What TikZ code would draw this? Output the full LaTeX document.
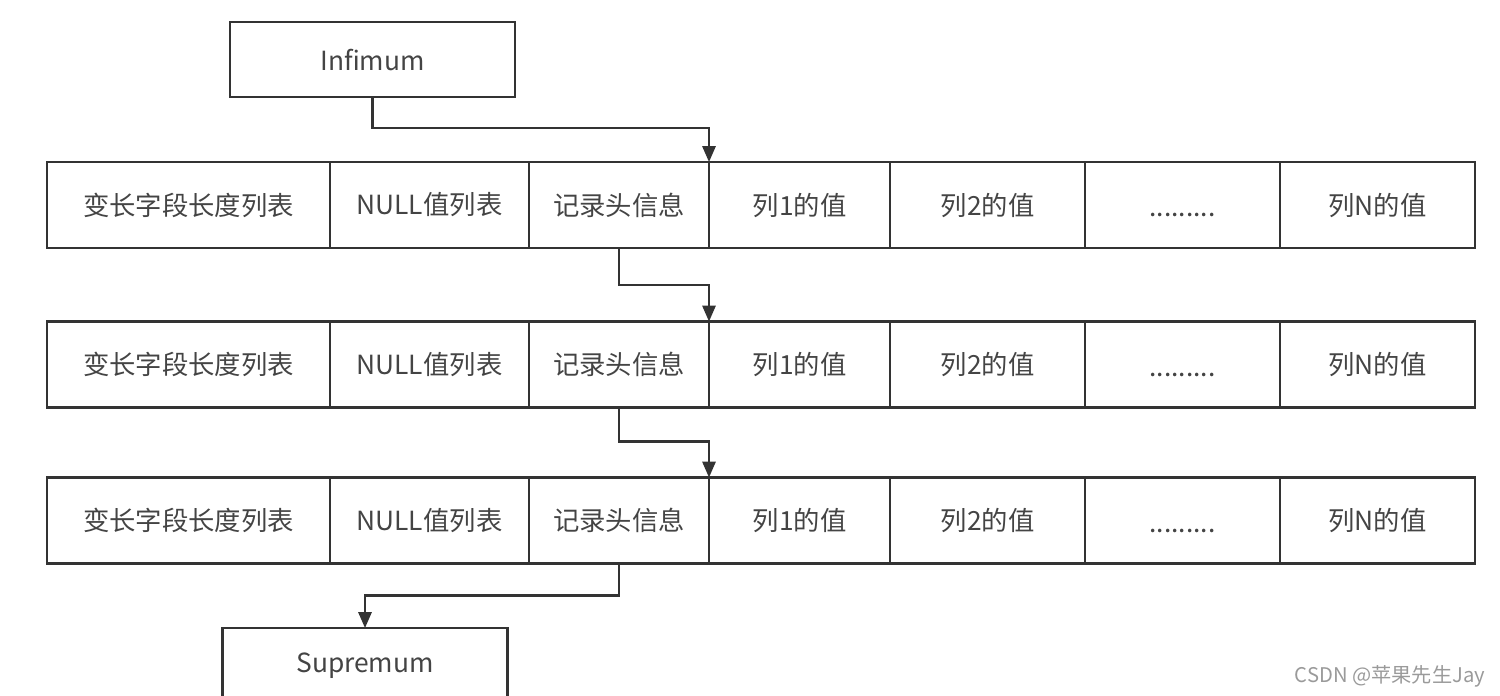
\documentclass[tikz,border=0pt]{standalone}
\usepackage{fontspec}
\setmainfont{Noto Sans CJK SC}
\usepackage{xcolor}
\usetikzlibrary{arrows.meta, positioning}
\definecolor{linegray}{HTML}{333333}
\definecolor{textgray}{HTML}{444444}
\definecolor{markgray}{HTML}{9A9A9A}
\newcommand{\celldots}{\vphantom{列}\raisebox{-0.15ex}{.........}}
\tikzset{
	>={Triangle[width=7.5pt,length=9pt]},
	every node/.style={font=\fontsize{15}{18}\selectfont, text=textgray},
	cell/.style={draw=linegray, line width=1.2pt, inner sep=0pt, outer sep=0pt, minimum height=1.72cm},
	endbox/.style={cell, minimum width=5.7cm, minimum height=1.5cm},
	link/.style={->, draw=linegray, line width=1.2pt}
}

\begin{document}
\begin{tikzpicture}
	\clip (0,0) rectangle (30,-13.9);
	\useasboundingbox (0,0) rectangle (30,-13.9);
	\node[endbox] (inf) at (7.45,-1.19) {Infimum};
	\node[endbox] (sup) at (7.3,-13.31) {Supremum};
	% three records
	\foreach \r/\y in {1/-4.1, 2/-7.29, 3/-10.41}
	\foreach \c/\xa/\xb/\t in {1/0.94/6.6/变长字段长度列表, 2/6.6/10.58/NULL值列表,
		3/10.58/14.18/记录头信息, 4/14.18/17.8/列1的值, 5/17.8/21.7/列2的值,
		6/21.7/25.6/\celldots, 7/25.6/29.5/列N的值}
	\node[cell, minimum width={(\xb-\xa)*1cm}] (r\r c\c) at ({(\xa+\xb)/2},\y) {\t};
	\draw[link] (inf.south) -- ++(0,-0.62) -| (r1c4.north west);
	\draw[link] (r1c3.south) -- ++(0,-0.74) -| (r2c4.north west);
	\draw[link] (r2c3.south) -- ++(0,-0.68) -| (r3c4.north west);
	\draw[link] (r3c3.south) -- ++(0,-0.64) -| (sup.north);
	\node[font=\fontsize{11.5}{13}\selectfont, text=markgray] (mark) at (27.8,-13.52) {CSDN @苹果先生Jay};
\end{tikzpicture}
\end{document}
